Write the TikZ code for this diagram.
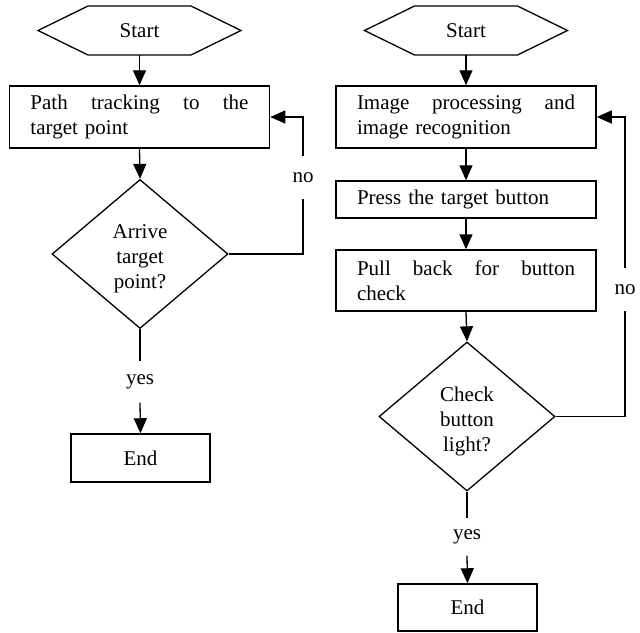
\documentclass[tikz,border=0pt]{standalone}
\usepackage{fontspec}
\setmainfont{Liberation Serif}
\usetikzlibrary{shapes.geometric,arrows.meta}
\newcommand{\spreadline}[1]{\makebox[218pt][l]{#1}}
\begin{document}
\begin{tikzpicture}[x=1pt,y=-1pt,
  font=\fontsize{21}{25}\selectfont,
  line width=1.3pt,
  arr/.style={-{Triangle[length=15pt,width=13pt]}},
  hexlabel/.style={inner sep=0pt,outer sep=0pt,minimum width=103pt,minimum height=49pt},
  proc/.style={draw,line width=1.5pt,text width=218pt,inner xsep=21pt,inner ysep=0pt,align=left},
  decision/.style={draw,shape=diamond,aspect=1.18,minimum width=176pt,minimum height=149pt,inner sep=0pt,align=center},
  endbox/.style={draw,line width=1.5pt,minimum width=139pt,minimum height=48pt,inner sep=0pt},
  lbl/.style={inner sep=0pt,minimum height=40pt}
]
\useasboundingbox (0,0) rectangle (640,632);

% ---------- left flow ----------
\node[hexlabel] (s1) at (139.5,30.5) {Start};
\draw (s1.north west) -- (s1.north east) -- ([xshift=50pt]s1.east) -- (s1.south east)
      -- (s1.south west) -- ([xshift=-50pt]s1.west) -- cycle;
\node[proc,minimum height=62pt] (r1) at (139.5,117) {\spreadline{Path\hfill tracking\hfill to\hfill the}\\target point};
\node[decision] (d1) at (140,254) {\rule{0pt}{24pt}Arrive\\target\\point?};
\node[lbl] (y1) at (140,382) {yes};
\node[endbox] (e1) at (140.5,458) {End};
\node[lbl,minimum height=41pt] (n1) at (303,177.5) {no};

\draw[arr] (s1.south) -- (r1.north);
\draw[arr] (r1.south) -- (d1.north);
\draw (d1.south) -- (y1.north);
\draw[arr] (y1.south) -- (e1.north);
\draw (d1.east) -| (n1.south);
\draw[arr] (n1.north) |- (r1.east);

% ---------- right flow ----------
\node[hexlabel] (s2) at (466,30.5) {Start};
\draw (s2.north west) -- (s2.north east) -- ([xshift=50pt]s2.east) -- (s2.south east)
      -- (s2.south west) -- ([xshift=-50pt]s2.west) -- cycle;
\node[proc,minimum height=62pt] (r2) at (466,117) {\spreadline{Image\hfill processing\hfill and}\\image recognition};
\node[proc,minimum height=37pt] (r3) at (466,199.5) {Press the target button};
\node[proc,minimum height=61pt] (r4) at (466,280.5) {\spreadline{Pull\hfill back\hfill for\hfill button}\\check};
\node[decision] (d2) at (467,416.5) {\rule{0pt}{24pt}Check\\button\\light?};
\node[lbl,minimum height=36pt] (y2) at (467,537) {yes};
\node[endbox,minimum height=47pt] (e2) at (467.5,607.5) {End};
\node[lbl,minimum height=41pt] (n2) at (625,289.5) {no};

\draw[arr] (s2.south) -- (r2.north);
\draw[arr] (r2.south) -- (r3.north);
\draw[arr] (r3.south) -- (r4.north);
\draw[arr] (r4.south) -- (d2.north);
\draw (d2.south) -- (y2.north);
\draw[arr] (y2.south) -- (e2.north);
\draw (d2.east) -| (n2.south);
\draw[arr] (n2.north) |- (r2.east);
\end{tikzpicture}
\end{document}
